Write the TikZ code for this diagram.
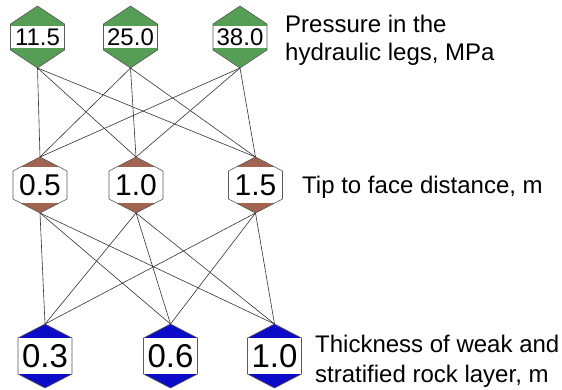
\documentclass[tikz,border=0pt]{standalone}
\usepackage{fontspec}
\setmainfont{Liberation Sans}

\definecolor{legsgreen}{RGB}{86,158,86}
\definecolor{tipbrown}{RGB}{160,100,80}
\definecolor{rockblue}{RGB}{12,12,200}

% hexagon with pointed top: apex height, half side
\newcommand{\hexpath}[2]{(0,-#1-#2) -- (27,-#2) -- (27,#2) -- (0,#1+#2) -- (-27,#2) -- (-27,-#2) -- cycle}
% centre, apex height, half side, cap depth, colour
\newcommand{\hexa}[5]{%
	\begin{scope}[shift={#1}]
		\begin{scope}
			\clip \hexpath{#2}{#3};
			\fill[white] (-28,-40) rectangle (28,40);
			\fill[#5] (-28,-#2-#3) rectangle (28,-#2-#3+#4);
			\fill[#5] (-28,#2+#3) rectangle (28,#2+#3-#4);
		\end{scope}
		\draw[hexline] \hexpath{#2}{#3};
	\end{scope}}

\tikzset{
	hexline/.style={black!65, line width=0.6pt},
	hexnode/.style={minimum width=54pt, inner sep=0pt, outer sep=0pt},
	legs/.style={hexnode, minimum height=62pt, font=\fontsize{24}{28}\selectfont},
	tip/.style={hexnode, minimum height=56pt, font=\fontsize{30}{34}\selectfont},
	rock/.style={hexnode, minimum height=64pt, font=\fontsize{33}{37}\selectfont},
	link/.style={black!80, line width=0.6pt},
	label/.style={anchor=base west, inner sep=0pt, align=left}
}

\begin{document}
\begin{tikzpicture}[x=1pt, y=-1pt]
	\useasboundingbox (0,0) rectangle (562,389);

	\foreach \name/\x/\val in {legs1/37.5/11.5, legs2/130.5/25.0, legs3/240/38.0} {
		\hexa{(\x,37)}{18}{13}{20}{legsgreen}
		\node[legs]	(\name)	at (\x,37)	{\val};
	}
	\foreach \name/\x/\val in {tip1/40/0.5, tip2/136/1.0, tip3/255.5/1.5} {
		\hexa{(\x,185)}{14}{14}{10}{tipbrown}
		\node[tip]	(\name)	at (\x,185)	{\val};
	}
	\foreach \name/\x/\val in {rock1/45/0.3, rock2/170.5/0.6, rock3/274.5/1.0} {
		\hexa{(\x,356)}{14}{18}{14}{rockblue}
		\node[rock]	(\name)	at (\x,356)	{\val};
	}

	\foreach \i in {1,2,3}
		\foreach \j in {1,2,3} {
			\draw[link] (legs\i.south) -- (tip\j.north);
			\draw[link] (tip\i.south) -- (rock\j.north);
		}

	\node[label, font=\fontsize{24}{28}\selectfont]	(legstext)	at (285,60)	{Pressure in the\\hydraulic legs, MPa};
	\node[label, font=\fontsize{24}{28}\selectfont]	(tiptext)	at (302,193)	{Tip to face distance, m};
	\node[label, font=\fontsize{24}{30}\selectfont]	(rocktext)	at (315,382)	{Thickness of weak and\\stratified rock layer, m};
\end{tikzpicture}
\end{document}
